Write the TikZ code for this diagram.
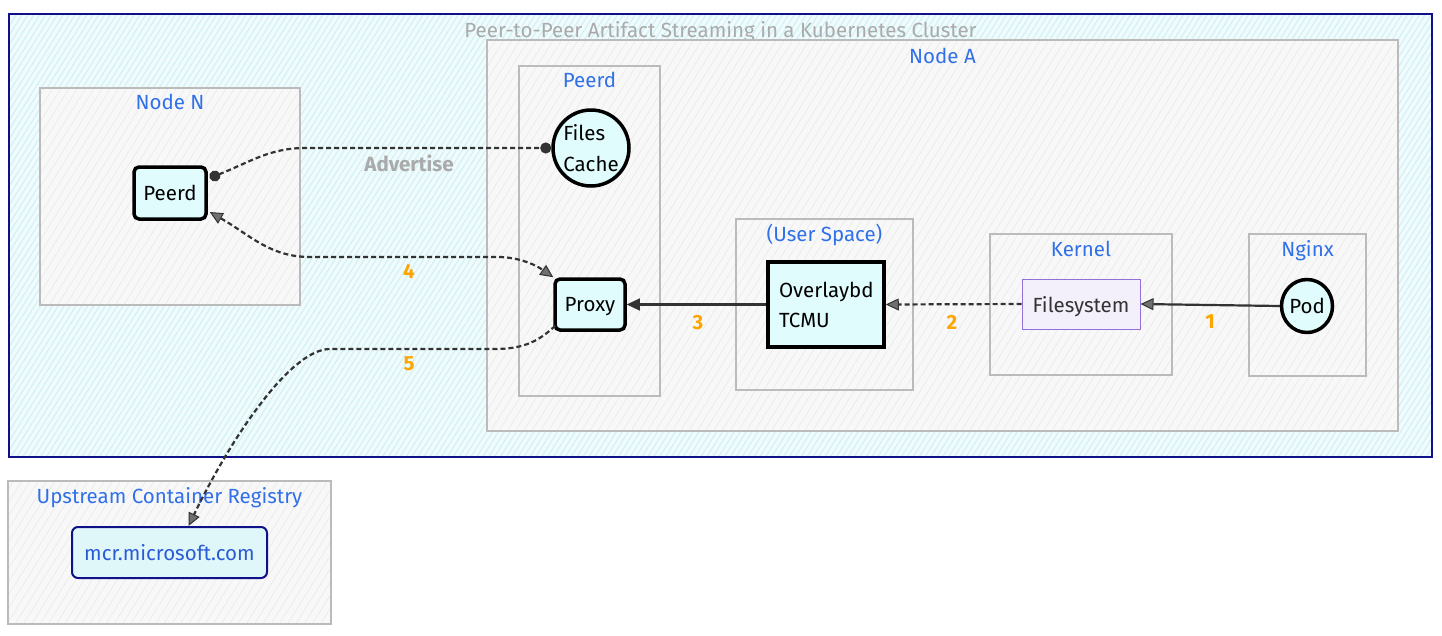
\documentclass[tikz,border=0pt]{standalone}
\usepackage{fontspec}
\setmainfont{Fira Sans}
\usetikzlibrary{arrows.meta,patterns.meta,calc,shapes.geometric}
\definecolor{navyb}{HTML}{10108A}
\definecolor{grpline}{HTML}{BBBBBB}
\definecolor{grpfill}{HTML}{F8F8F8}
\definecolor{grphatch}{HTML}{EAEAEA}
\definecolor{clfill}{HTML}{EFFBFC}
\definecolor{clhatch}{HTML}{CDEFF3}
\definecolor{ttlblue}{HTML}{3070E8}
\definecolor{numorange}{HTML}{FFA500}
\definecolor{advgray}{HTML}{AAAAAA}
\definecolor{edgec}{HTML}{333333}
\definecolor{nfill}{HTML}{E0FCFD}
\definecolor{fsline}{HTML}{9370DB}
\definecolor{fsfill}{HTML}{F3F0FC}
\definecolor{mcrfill}{HTML}{E0F7FA}
\definecolor{mcrtext}{HTML}{2A5BD7}
\begin{document}
\begin{tikzpicture}[x=1pt,y=-1pt,
  font=\fontsize{20.5}{24}\selectfont,
  every node/.style={text depth=0pt},
  grp/.style={draw=grpline, line width=2.5pt, inner sep=0pt,
    preaction={fill=grpfill},
    pattern={Lines[angle=58,distance=7pt,line width=0.6pt]}, pattern color=grphatch},
  clusterbox/.style={draw=navyb, line width=2pt, inner sep=0pt,
    preaction={fill=clfill},
    pattern={Lines[angle=58,distance=5pt,line width=0.9pt]}, pattern color=clhatch},
  gtitle/.style={text=ttlblue, inner sep=0pt},
  thickbox/.style={draw=black, line width=3.5pt, fill=nfill, inner sep=0pt},
  numlbl/.style={text=numorange, font=\fontsize{20.5}{24}\selectfont\bfseries, inner sep=0pt},
  sedge/.style={draw=edgec, line width=2.2pt},
  dedge/.style={draw=edgec, line width=2.2pt, dash pattern=on 5pt off 3pt},
  tipopen/.style={-{Triangle[length=13pt,width=12pt,fill=edgec!70,line width=1pt]}},
  tipfill/.style={-{Triangle[length=13pt,width=12pt,fill=edgec,line width=1pt]}},
]
\useasboundingbox (0,0) rectangle (1442,635);

% clusters
\node[clusterbox, minimum width=1423pt, minimum height=443pt] (cluster) at (720.5,235.5) {};
\node[text=advgray, inner sep=0pt] (clt) at ($(cluster.north)+(0,16)$) {Peer-to-Peer Artifact Streaming in a Kubernetes Cluster};

\node[grp, minimum width=911pt, minimum height=391pt] (nodeA) at (942.5,235.5) {};
\node[gtitle] (tA) at ($(nodeA.north)+(0,16)$) {Node A};

\node[grp, minimum width=141pt, minimum height=330pt] (peerdG) at (589.5,231) {};
\node[gtitle] (tP) at ($(peerdG.north)+(0,15)$) {Peerd};

\node[grp, minimum width=177pt, minimum height=171pt] (userG) at (824.5,304.5) {};
\node[gtitle] (tU) at ($(userG.north)+(0,15)$) {(User Space)};

\node[grp, minimum width=182pt, minimum height=141pt] (kernelG) at (1081,304.5) {};
\node[gtitle] (tK) at ($(kernelG.north)+(0,16)$) {Kernel};

\node[grp, minimum width=117pt, minimum height=142pt] (nginxG) at (1307.5,305) {};
\node[gtitle] (tN) at ($(nginxG.north)+(0,16)$) {Nginx};

\node[grp, minimum width=260pt, minimum height=217pt] (nodeNG) at (170,196.5) {};
\node[gtitle] (tNN) at ($(nodeNG.north)+(0,15)$) {Node N};

\node[grp, minimum width=323pt, minimum height=143pt] (upG) at (169.5,552.5) {};
\node[gtitle] (tUp) at ($(upG.north)+(0,16)$) {Upstream Container Registry};

% nodes
\node[thickbox, circle, minimum size=76pt, align=left, font=\fontsize{20.5}{31}\selectfont] (cache) at (591,148) {Files\\Cache};
\node[thickbox, rounded corners=5pt, minimum width=70pt, minimum height=51pt] (proxy) at (590,304.5) {Proxy};
\node[thickbox, minimum width=116pt, minimum height=85pt, text width=94pt, inner xsep=11pt, align=left, text depth=, font=\fontsize{20.5}{30}\selectfont] (overlay) at (826,304.5) {Overlaybd\\TCMU};
\node[draw=fsline, line width=1pt, fill=fsfill, text=edgec, minimum width=118pt, minimum height=50pt, inner sep=0pt] (fs) at (1081,304) {Filesystem};
\node[thickbox, ellipse, minimum width=51pt, minimum height=53pt] (pod) at (1307,306) {Pod};
\node[thickbox, rounded corners=5pt, minimum width=72pt, minimum height=52pt] (peerdN) at (170,193) {Peerd};
\node[draw=navyb, line width=2pt, fill=mcrfill, text=mcrtext, rounded corners=6pt, minimum width=195pt, minimum height=51pt, inner sep=0pt] (mcr) at (169.5,552.5) {mcr.microsoft.com};

% edges
\draw[sedge, tipopen] (pod.west) -- (fs.east);
\draw[dedge, tipopen] (fs.west) -- (overlay.east);
\draw[sedge, tipfill] (overlay.west) -- (proxy.east);

\draw[dedge, {Circle[length=11pt,fill=edgec]}-{Circle[length=11pt,fill=edgec]}]
  ($(peerdN.east)+(2,-15)$) .. controls (250,162) and (270,148) .. (305,148)
  -- (525,148) -- (cache.west);

\draw[dedge, {Triangle[length=13pt,width=12pt,fill=edgec!70,line width=1pt]}-{Triangle[length=13pt,width=12pt,fill=edgec!70,line width=1pt]}]
  ($(peerdN.east)+(2,19)$) .. controls (250,235) and (270,257) .. (310,257)
  -- (500,257) .. controls (525,258) and (540,268) .. (proxy.north west);

\draw[dedge, tipopen]
  ($(proxy.south west)+(2,-6)$) .. controls (540,340) and (525,349) .. (495,349)
  -- (330,349) .. controls (290,349) and (230,440) .. ($(mcr.north)+(19,0)$);

% labels
\node[text=advgray, font=\fontsize{20.5}{24}\selectfont\bfseries, inner sep=0pt] (ladv) at (409,163) {Advertise};
\node[numlbl] (l4) at (409,271) {4};
\node[numlbl] (l5) at (409,364) {5};
\node[numlbl] (l3) at (698,322) {3};
\node[numlbl] (l2) at (952,322) {2};
\node[numlbl] (l1) at (1210,322) {1};
\end{tikzpicture}
\end{document}
